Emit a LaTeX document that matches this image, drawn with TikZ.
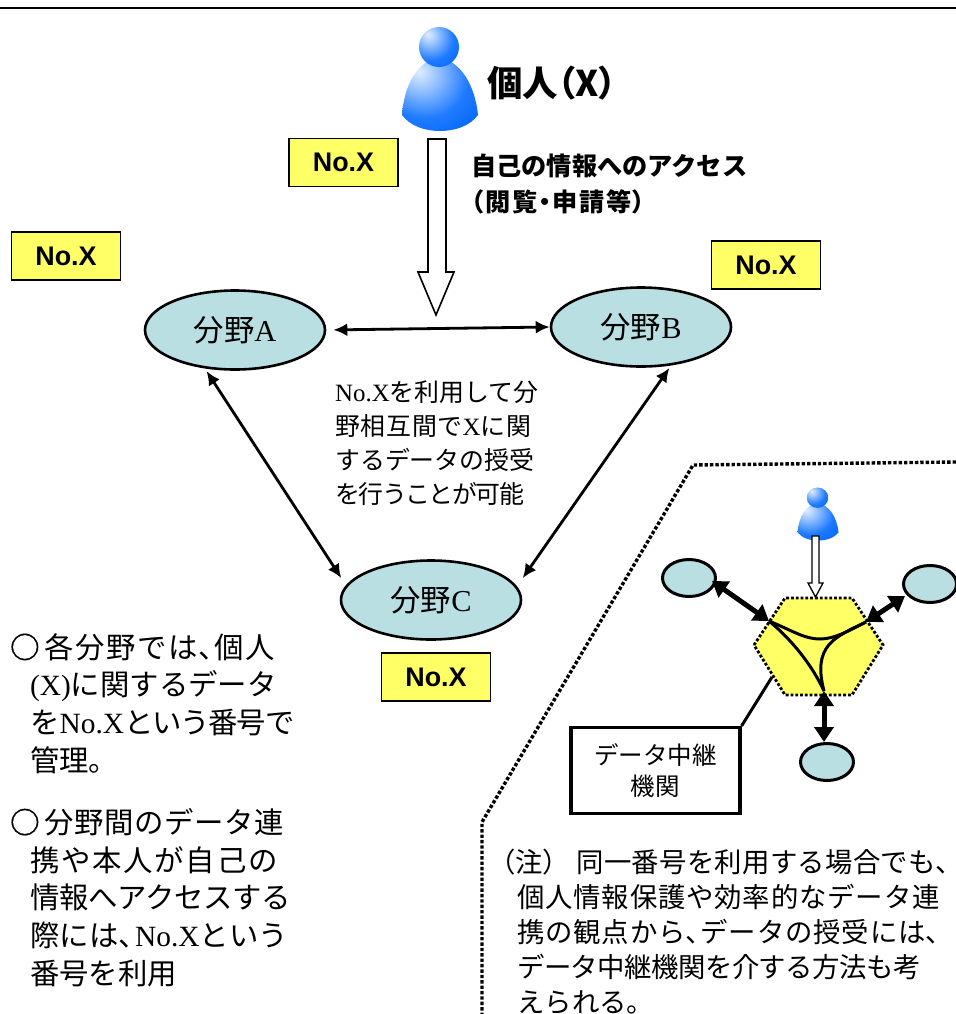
\documentclass[tikz,border=0pt]{standalone}
\usepackage{fontspec}
\setmainfont{Noto Sans CJK JP}
\newfontfamily\jppalt[RawFeature={+palt}]{Noto Sans CJK JP}
\newfontfamily\jpheavy[FakeBold=1.2]{Noto Sans CJK JP}
\newfontfamily\latserif{Liberation Serif}
\newfontfamily\latsans{Liberation Sans}
\newcommand{\lat}[1]{{\latserif #1}}
\newcommand{\nc}{\makebox[.55em][l]{、}}
\newcommand{\ls}[2]{{\addfontfeature{LetterSpace=#1}#2}}
\usetikzlibrary{arrows.meta,shapes.geometric}
\definecolor{teal1}{HTML}{B9DFE3}
\definecolor{yel1}{HTML}{FFFF66}
\pgfdeclareradialshading{personblue}{\pgfpoint{-14bp}{16bp}}{%
  rgb(0bp)=(0.88,0.93,1);rgb(10bp)=(0.62,0.78,1);rgb(28bp)=(0.12,0.48,1);rgb(45bp)=(0,0.4,1);rgb(100bp)=(0,0.4,1)}
\tikzset{
  x=1bp,y=-1bp,
  numbox/.style={draw=black,line width=1.8bp,fill=yel1,minimum width=109bp,minimum height=48bp,inner sep=0pt,font=\latsans\bfseries\fontsize{27}{27}\selectfont},
  field/.style={draw=black,line width=2.6bp,fill=teal1,ellipse,minimum width=180bp,minimum height=79bp,inner sep=0pt,font=\fontsize{30.5}{30.5}\selectfont},
  smallfield/.style={draw=black,line width=3bp,fill=teal1,ellipse,minimum width=53bp,minimum height=37bp,inner sep=0pt},
  link/.style={line width=2.8bp,{Latex[length=14bp,width=13bp]}-{Latex[length=14bp,width=13bp]}},
  thicklink/.style={line width=5bp,{Triangle[length=15bp,width=19bp]}-{Triangle[length=15bp,width=19bp]}},
  blockarrow/.style={draw=black,line width=1.6bp,fill=white},
  para/.style={anchor=north west,inner sep=0pt,align=left},
  personfig/.pic={
    \path[shading=personblue] (-37,87) .. controls (-35,57) and (-21,32) .. (0,30) .. controls (21,32) and (36,57) .. (39,87) .. controls (31,98) and (16,103) .. (1,103) .. controls (-14,103) and (-29,98) .. (-37,87) -- cycle;
    \path[shading=personblue] (0,19) circle [x radius=20,y radius=20];
  }
}
\begin{document}
\begin{tikzpicture}
\useasboundingbox (0,0) rectangle (956,1014);
\draw[line width=2bp,black] (0,8) -- (956,8);
% dotted panel outline
\draw[line width=3.4bp,dotted] (956,462) -- (693,465) -- (482,822) -- (482,1014);
% main person
\pic at (439,28) {personfig};
\node[anchor=base west,inner sep=0pt,font=\jppalt\bfseries\fontsize{35.5}{35.5}\selectfont] (person) at (487,96) {個人（X）};
\node[numbox] (n1) at (343.5,162.5) {No.X};
\node[numbox] (n2) at (66,256) {No.X};
\node[numbox] (n3) at (766,265) {No.X};
\node[numbox] (n4) at (436,677) {No.X};
% access arrow
\draw[blockarrow] (428,139) -- (446,139) -- (446,272) -- (454,272) -- (436,315) -- (418,272) -- (428,272) -- cycle;
\node[para,font=\bfseries\fontsize{25.3}{36}\selectfont] (access) at (471,154) {自己の情報へのアクセス\\{\jppalt\bfseries\ls{6}{（閲覧・申請等）}}};
% fields
\node[field] (A) at (235,330) {\raisebox{-2.5bp}{分野\lat{A}}};
\node[field] (B) at (641,327) {\raisebox{1.5bp}{分野\lat{B}}};
\node[field] (C) at (431,600) {分野\lat{C}};
\draw[link,shorten <=7bp] (A.east) -- (B.west);
\draw[link,shorten <=3bp] (A.-128) -- ([xshift=-10bp,yshift=2bp]C.166);
\draw[link,shorten <=3bp] (B.-52) -- ([xshift=12bp,yshift=2bp]C.14);
\node[para,font=\fontsize{25}{34}\selectfont] (mid) at (335,381) {\lat{No.X}を利用して分\\\ls{3}{野相互間で}\lat{X}\ls{3}{に関}\\するデータの授受\\\ls{-6}{を行うことが可能}};
% left notes
\node[para,font=\fontsize{29.5}{38}\selectfont] (left1) at (10,633) {\makebox[34bp][l]{\jpheavy ○}\ls{6}{各分野では\nc 個人}\\\hspace*{20bp}\lat{(X)}に関するデータ\\\hspace*{20bp}\ls{-4}{を}\lat{No.X}\ls{-4}{という番号で}\\\hspace*{20bp}管理。};
\node[para,font=\fontsize{29.5}{38}\selectfont] (left2) at (10,808) {\makebox[34bp][l]{\jpheavy ○}\ls{2}{分野間のデータ連}\\\hspace*{20bp}\ls{6}{携や本人が自己の}\\\hspace*{20bp}\ls{-1}{情報へアクセスする}\\\hspace*{20bp}\ls{1}{際には}\nc\lat{No.X}\ls{1}{という}\\\hspace*{20bp}番号を利用};
% relay inset
\coordinate (h1) at (754,645);\coordinate (h2) at (785,598);\coordinate (h3) at (852,598);
\coordinate (h4) at (883,645);\coordinate (h5) at (852,695);\coordinate (h6) at (785,695);
\draw[fill=yel1,line width=2.8bp,dotted] (h1) -- (h2) -- (h3) -- (h4) -- (h5) -- (h6) -- cycle;
\pic[xscale=.54,yscale=.51] at (817.5,488) {personfig};
\draw[blockarrow,line width=1.3bp] (812,536) -- (819,536) -- (819,583) -- (823,583) -- (815.5,597) -- (808,583) -- (812,583) -- cycle;
\node[smallfield] (s1) at (689,578) {};
\node[smallfield] (s2) at (930,584) {};
\node[smallfield] (s3) at (827,762) {};
\coordinate (j1) at (769,621);\coordinate (j2) at (866,622);\coordinate (j3) at (824,691);
\draw[thicklink] (s1) ++(23,3) coordinate (s1e) (s1e) -- (j1);
\draw[thicklink] (s2) ++(-25,12) coordinate (s2e) (s2e) -- (j2);
\draw[thicklink] (j3) -- (s3.north -| j3);
\draw[line width=3bp] (j1) .. controls (795,632) and (805,639) .. (820,639) .. controls (835,639) and (850,630) .. (j2);
\draw[line width=3bp] (j1) .. controls (792,640) and (812,665) .. (j3);
\draw[line width=3bp] (j2) .. controls (835,637) and (812,645) .. (j3);
\node[draw=black,line width=3.2bp,fill=white,minimum width=169bp,minimum height=86bp,inner sep=0pt,align=center,font=\fontsize{24.6}{32}\selectfont] (relay) at (655.5,770.5) {\raisebox{-1.5bp}{データ中継}\\\raisebox{-1.5bp}{機関}};
\coordinate (hexcall) at (772,677);
\draw[line width=3bp] (relay.north east) -- (hexcall);
\node[para,font=\fontsize{27.5}{35.2}\selectfont] (note) at (488,849) {（注） \ls{1}{同一番号を利用する場合でも}\nc\\\hspace*{29bp}\ls{3}{個人情報保護や効率的なデータ連}\\\hspace*{29bp}\ls{3}{携の観点から\nc データの授受には}\nc\\\hspace*{29bp}\ls{-2}{データ中継機関を介する方法も考}\\\hspace*{29bp}えられる。};
\end{tikzpicture}
\end{document}
